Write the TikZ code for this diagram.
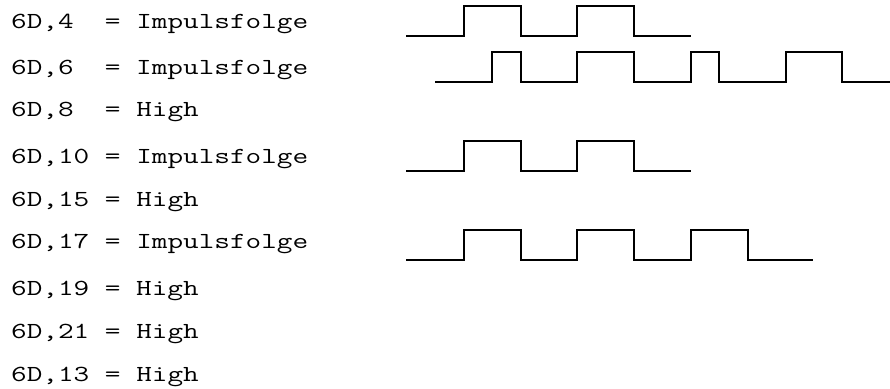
\documentclass[tikz,border=0pt]{standalone}
\usepackage{graphicx}
\newcommand{\wlbl}[1]{\scalebox{1.32}[1]{#1}}
\begin{document}
\begin{tikzpicture}[x=1pt,y=-1pt,
  lbl/.style={anchor=base west,inner sep=0pt,font=\fontsize{23}{23}\selectfont\ttfamily},
  wave/.style={line width=2.7pt,line join=miter,line cap=butt}]
\useasboundingbox (0,0) rectangle (890,388);
\node[lbl] (t1) at (11,28)  {\wlbl{6D,4~~=~Impulsfolge}};
\node[lbl] (t2) at (11,74)  {\wlbl{6D,6~~=~Impulsfolge}};
\node[lbl] (t3) at (11,116) {\wlbl{6D,8~~=~High}};
\node[lbl] (t4) at (11,163) {\wlbl{6D,10~=~Impulsfolge}};
\node[lbl] (t5) at (11,206) {\wlbl{6D,15~=~High}};
\node[lbl] (t6) at (11,248) {\wlbl{6D,17~=~Impulsfolge}};
\node[lbl] (t7) at (11,295) {\wlbl{6D,19~=~High}};
\node[lbl] (t8) at (11,338) {\wlbl{6D,21~=~High}};
\node[lbl] (t9) at (11,381) {\wlbl{6D,13~=~High}};
% waveform for 6D,4
\draw[wave] (406,36) -- (464,36) -- (464,6) -- (521,6) -- (521,36) -- (577,36) -- (577,6) -- (634,6) -- (634,36) -- (691,36);
% waveform for 6D,6
\draw[wave] (435,82) -- (492,82) -- (492,52) -- (521,52) -- (521,82) -- (577,82) -- (577,52) -- (634,52) -- (634,82) -- (691,82) -- (691,52) -- (719,52) -- (719,82) -- (786,82) -- (786,52) -- (842,52) -- (842,82) -- (890,82);
% waveform for 6D,10
\draw[wave] (406,171) -- (464,171) -- (464,141) -- (521,141) -- (521,171) -- (577,171) -- (577,141) -- (634,141) -- (634,171) -- (691,171);
% waveform for 6D,17
\draw[wave] (406,260) -- (464,260) -- (464,230) -- (521,230) -- (521,260) -- (577,260) -- (577,230) -- (634,230) -- (634,260) -- (691,260) -- (691,230) -- (748,230) -- (748,260) -- (813,260);
\end{tikzpicture}
\end{document}
